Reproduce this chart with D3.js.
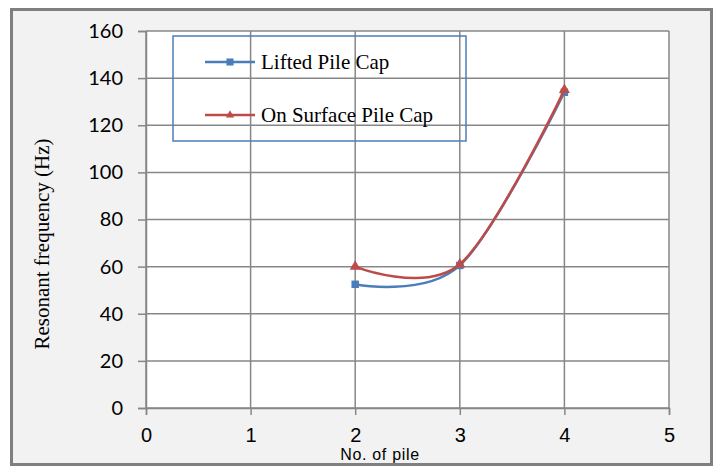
<!DOCTYPE html>
<html>
<head>
<meta charset="utf-8">
<script src="https://cdn.jsdelivr.net/npm/d3@7/dist/d3.min.js"></script>
<style>
  html, body { margin: 0; padding: 0; background: #ffffff; }
  svg { display: block; }
</style>
</head>
<body>
<svg id="chart" width="720" height="466"></svg>
<script>
// Resonant frequency vs number of piles
const piles = [2, 3, 4];
const liftedCap = [52.5, 60.5, 134];
const surfaceCap = [60, 61, 135];
const xTicks = [0, 1, 2, 3, 4, 5];
const yTicks = [0, 20, 40, 60, 80, 100, 120, 140, 160];
const seriesNames = ["Lifted Pile Cap", "On Surface Pile Cap"];
const seriesColors = ["#4a7ebb", "#be4b48"];

const svg = d3.select("#chart");

// frame
svg.append("rect").attr("x", 11.5).attr("y", 9.5).attr("width", 700).attr("height", 455)
  .attr("fill", "#f2f2f2").attr("stroke", "#7f7f7f").attr("stroke-width", 3);

const plot = { left: 146, right: 669, top: 31, bottom: 408 };
const x = d3.scaleLinear().domain([0, 5]).range([plot.left, plot.right]);
const y = d3.scaleLinear().domain([0, 160]).range([plot.bottom, plot.top]);

svg.append("rect").attr("x", plot.left).attr("y", plot.top)
  .attr("width", plot.right - plot.left).attr("height", plot.bottom - plot.top)
  .attr("fill", "#ffffff");

const gridColor = "#878787";
// horizontal gridlines
svg.append("g").selectAll("line").data(yTicks).join("line")
  .attr("x1", plot.left).attr("x2", plot.right)
  .attr("y1", d => y(d)).attr("y2", d => y(d))
  .attr("stroke", gridColor).attr("stroke-width", 1.5);
// vertical gridlines
svg.append("g").selectAll("line").data(xTicks).join("line")
  .attr("x1", d => x(d)).attr("x2", d => x(d))
  .attr("y1", plot.top).attr("y2", plot.bottom)
  .attr("stroke", gridColor).attr("stroke-width", 1.5);

// axes
const yAxis = d3.axisLeft(y).tickValues(yTicks).tickSize(8).tickPadding(15).tickFormat(d3.format("d"));
const gy = svg.append("g").attr("transform", `translate(${plot.left},0)`).call(yAxis);
gy.select(".domain").attr("stroke", gridColor).attr("stroke-width", 1.5);
gy.selectAll(".tick line").attr("stroke", gridColor).attr("stroke-width", 1.5);
gy.selectAll("text").attr("font-family", "Lato, 'Open Sans', sans-serif")
  .attr("font-size", 20).attr("fill", "#000");

const xAxis = d3.axisBottom(x).tickValues(xTicks).tickSize(7).tickPadding(13).tickFormat(d3.format("d"));
const gx = svg.append("g").attr("transform", `translate(0,${plot.bottom})`).call(xAxis);
gx.select(".domain").attr("stroke", gridColor).attr("stroke-width", 1.5);
gx.selectAll(".tick line").attr("stroke", gridColor).attr("stroke-width", 1.5);
gx.selectAll("text").attr("font-family", "'Liberation Sans', Arial, sans-serif")
  .attr("font-size", 20).attr("fill", "#000");

// axis titles
svg.append("text").attr("x", 380).attr("y", 460).attr("text-anchor", "middle")
  .attr("font-family", "'Liberation Sans', Arial, sans-serif").attr("font-size", 16)
  .attr("letter-spacing", 0.7)
  .text("No. of pile");
svg.append("text")
  .attr("transform", `translate(49,244) rotate(-90)`)
  .attr("text-anchor", "middle")
  .attr("font-family", "'Liberation Serif', 'Times New Roman', serif").attr("font-size", 21)
  .text("Resonant frequency (Hz)");

// series (smoothed lines with markers)
const series = [liftedCap, surfaceCap];
const line = d3.line().x(d => x(d[0])).y(d => y(d[1])).curve(d3.curveCardinal.tension(0));
series.forEach((vals, i) => {
  const pts = piles.map((p, j) => [p, vals[j]]);
  svg.append("path").datum(pts).attr("d", line)
    .attr("fill", "none").attr("stroke", seriesColors[i]).attr("stroke-width", 2.5);
  const sym = i === 0 ? d3.symbolSquare : d3.symbolTriangle;
  const size = i === 0 ? 56 : 52;
  svg.append("g").selectAll("path").data(pts).join("path")
    .attr("transform", d => `translate(${x(d[0])},${y(d[1])})`)
    .attr("d", d3.symbol(sym, size)).attr("fill", seriesColors[i]);
});

// legend
svg.append("rect").attr("x", 173).attr("y", 36).attr("width", 293).attr("height", 105)
  .attr("fill", "none").attr("stroke", "#4a7ebb").attr("stroke-width", 1.5);
const legendY = [62, 115];
seriesNames.forEach((name, i) => {
  const g = svg.append("g");
  g.append("line").attr("x1", 205).attr("x2", 255).attr("y1", legendY[i]).attr("y2", legendY[i])
    .attr("stroke", seriesColors[i]).attr("stroke-width", 2.5);
  g.append("path").attr("transform", `translate(230,${legendY[i]})`)
    .attr("d", d3.symbol(i === 0 ? d3.symbolSquare : d3.symbolTriangle, i === 0 ? 50 : 30))
    .attr("fill", seriesColors[i]);
  g.append("text").attr("x", 261).attr("y", legendY[i] + 7)
    .attr("font-family", "'Liberation Serif', 'Times New Roman', serif").attr("font-size", 21)
    .text(name);
});
</script>
</body>
</html>
